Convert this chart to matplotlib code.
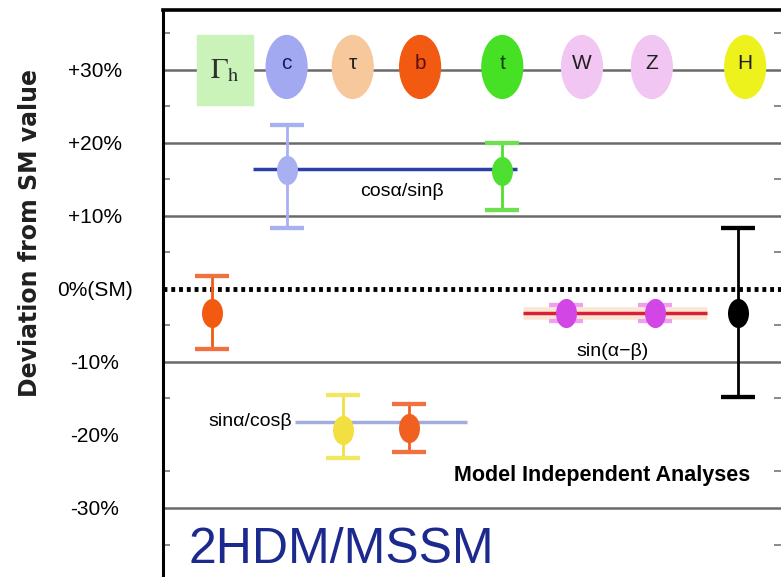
import matplotlib
matplotlib.use("Agg")
import matplotlib.pyplot as plt
from matplotlib.path import Path
from matplotlib.patches import Ellipse, Rectangle
from matplotlib.transforms import Affine2D
from matplotlib import font_manager

names = {f.name for f in font_manager.fontManager.ttflist}
narrow = "Liberation Sans Narrow" if "Liberation Sans Narrow" in names else "Liberation Sans"

# top row of particles (labels along the +30% line)
particles = ["c", "τ", "b", "t", "W", "Z", "H"]
particle_x = [2.0, 3.07, 4.16, 5.49, 6.78, 7.91, 9.42]
particle_colors = ["#a3a9f0", "#f6c89c", "#f25a12", "#46e024", "#f2c6f2", "#f2c6f2", "#eef21c"]
particle_text = ["#1a1a60", "#202020", "#601010", "#104010", "#202020", "#202020", "#202020"]
gamma_x = 1.0
row_y = 30

# measurements: centre, upper and lower end of the error bar (in %)
meas_x = [0.79, 2.0, 5.49, 6.52, 7.96, 9.30, 2.91, 3.98]
meas_y = [-3.3, 16.3, 16.2, -3.3, -3.3, -3.3, -19.3, -19.0]
meas_hi = [1.8, 22.4, 20.0, -2.2, -2.2, 8.4, -14.5, -15.8]
meas_lo = [-8.2, 8.4, 10.8, -4.4, -4.4, -14.8, -23.2, -22.3]
meas_colors = ["#f25a12", "#a8b0f2", "#4ee030", "#d246e6", "#d246e6", "#000000", "#f2e040", "#f06020"]
cap_colors = ["#f07040", "#a8b0f2", "#6ee050", "#f0a0f0", "#f0a0f0", "#000000", "#f0e860", "#f07040"]

# fitted couplings
fit_labels = ["cosα/sinβ", "sin(α−β)", "sinα/cosβ"]
fit_y = [16.4, -3.3, -18.2]
fit_x0 = [1.46, 5.83, 2.14]
fit_x1 = [5.73, 8.80, 4.92]
fit_colors = ["#2a3fa8", "#d8203c", "#a4acdc"]

grid_levels = [30, 20, 10, -10, -30]
tick_vals = [30, 20, 10, 0, -10, -20, -30]
tick_labels = ["+30%", "+20%", "+10%", "0%(SM)", "-10%", "-20%", "-30%"]

fig = plt.figure(figsize=(7.81, 5.77), dpi=100)
ax = fig.add_axes([163 / 781, 0, 618 / 781, 567 / 577])
ax.set_xlim(0, 10)
ax.set_ylim(-39.45, 38.2)

for g in grid_levels:
    ax.axhline(g, color="#6a6a6a", lw=1.8, zorder=1)
ax.axhline(0, color="black", lw=3.5, ls=(0, (0.8, 0.8)), zorder=2)

# top row icons
ax.add_patch(Rectangle((gamma_x - 0.45, row_y - 4.8), 0.9, 9.6, color="#c9f3b9", zorder=3))
ax.text(gamma_x, row_y, r"$\Gamma_{\mathrm{h}}$", fontsize=21, ha="center", va="center",
        math_fontfamily="stix", color="#303030", zorder=4)
for x, name, c, tc in zip(particle_x, particles, particle_colors, particle_text):
    ax.add_patch(Ellipse((x, row_y + 0.4), 0.66, 8.6, color=c, zorder=3))
    ax.text(x, row_y + 0.9, name, fontsize=15, ha="center", va="center",
            color=tc, family="Liberation Sans", zorder=4)

# fit lines
ax.plot([fit_x0[1], fit_x1[1]], [fit_y[1], fit_y[1]], color="#fbe6d2", lw=9, zorder=4,
        solid_capstyle="butt")
for x0, x1, y, c in zip(fit_x0, fit_x1, fit_y, fit_colors):
    ax.plot([x0, x1], [y, y], color=c, lw=2.5, zorder=5, solid_capstyle="butt")

# oval marker
oval = Path.unit_circle().transformed(Affine2D().scale(0.72, 1.0))

for x, y, hi, lo, c, cc in zip(meas_x, meas_y, meas_hi, meas_lo, meas_colors, cap_colors):
    ax.plot([x, x], [lo, hi], color=c, lw=2, zorder=6)
    ax.plot([x, x], [hi, hi], color=cc, marker="_", ms=24, mew=3, zorder=6)
    ax.plot([x, x], [lo, lo], color=cc, marker="_", ms=24, mew=3, zorder=6)
    ax.plot([x], [y], color=c, marker=oval, ms=21, mew=0, zorder=7)

ax.text(3.87, 13.3, fit_labels[0], fontsize=14, ha="center", va="center", family=narrow)
ax.text(7.28, -8.6, fit_labels[1], fontsize=14, ha="center", va="center", family=narrow)
ax.text(2.09, -18.2, fit_labels[2], fontsize=14, ha="right", va="center", family=narrow)

ax.text(7.10, -25.5, "Model Independent Analyses", fontsize=15.5, fontweight="bold",
        ha="center", va="center", family=narrow)
ax.text(0.42, -37.6, "2HDM/MSSM", fontsize=36, ha="left", va="baseline",
        color="#1c2a8e", family=narrow)

ax.set_xticks([])
ax.set_yticks(tick_vals, tick_labels)
ax.set_yticks([35, 25, 15, 5, -5, -15, -25, -35], minor=True)
for lab in ax.get_yticklabels():
    lab.set_horizontalalignment("center")
    lab.set_fontfamily(narrow)
    lab.set_fontsize(15)
ax.tick_params(axis="y", which="major", length=0, pad=49)
ax.tick_params(axis="y", which="minor", direction="in", length=5, width=1.2,
               color="#777777", left=True, right=True)
ax.spines["right"].set_visible(False)
ax.spines["bottom"].set_visible(False)
ax.spines["left"].set_linewidth(2.2)
ax.spines["top"].set_linewidth(2.6)

fig.text(30 / 781, 1 - 233 / 577, "Deviation from SM value", rotation=90, fontsize=17,
         fontweight="bold", ha="center", va="center", color="#202020")

fig.savefig("out.png", dpi=100)
